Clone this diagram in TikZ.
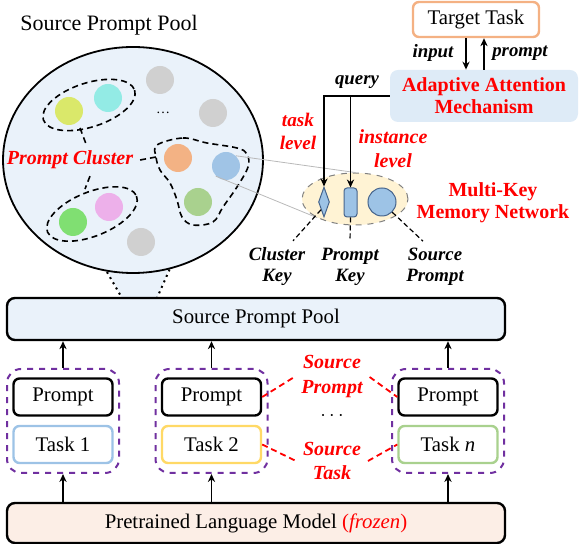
\documentclass[tikz,border=0pt]{standalone}
\usepackage{fontspec}
\setmainfont{Liberation Serif}
\usepackage{tikz}
\usetikzlibrary{arrows.meta, positioning, calc, shapes.geometric}
\usepackage{xcolor}
\definecolor{poolblue}{RGB}{234,242,250}
\definecolor{aamblue}{RGB}{222,235,247}
\definecolor{plmpeach}{RGB}{252,238,230}
\definecolor{memyellow}{RGB}{255,243,212}
\definecolor{keyblue}{RGB}{157,195,230}
\definecolor{keyedge}{RGB}{70,100,140}
\definecolor{tgtorange}{RGB}{244,177,131}
\definecolor{grpviolet}{RGB}{112,48,160}
\definecolor{tonegray}{RGB}{208,208,208}
\definecolor{toneyellow}{RGB}{218,232,106}
\definecolor{tonecyan}{RGB}{147,235,229}
\definecolor{toneorange}{RGB}{243,178,132}
\definecolor{toneblue}{RGB}{160,196,230}
\definecolor{tonesage}{RGB}{169,209,142}
\definecolor{tonepink}{RGB}{237,176,234}
\definecolor{tonegreen}{RGB}{128,223,114}
\definecolor{taskyellow}{RGB}{255,217,102}

\tikzset{
  txt/.style={font=\fontsize{10.4}{12}\selectfont},
  redlbl/.style={text=red, align=center, font=\fontsize{10}{12}\selectfont\bfseries\itshape},
  keylbl/.style={align=center, font=\fontsize{9.4}{10.5}\selectfont\bfseries\itshape},
  widebox/.style={draw, line width=1.2pt, rounded corners=4pt, minimum width=249pt, inner sep=0pt, txt},
  grpbox/.style={draw=grpviolet, dashed, line width=1pt, rounded corners=7pt, minimum width=56pt, minimum height=52pt},
  inbox/.style={draw, rounded corners=3pt, line width=1.2pt, minimum width=49.5pt, minimum height=18.5pt, inner sep=0pt, txt},
  uparrow/.style={-{Stealth[length=4pt,width=3.6pt]}, line width=0.9pt},
  tone/.style={circle, minimum size=14pt, inner sep=0pt},
  clu/.style={dashed, line width=0.8pt, dash pattern=on 3pt off 2pt},
  lead/.style={dashed, line width=0.6pt, dash pattern=on 2.5pt off 1.5pt},
  redlead/.style={red, dashed, line width=0.9pt, dash pattern=on 3pt off 2pt},
  keyshape/.style={fill=keyblue, draw=keyedge, line width=0.5pt, inner sep=0pt},
}

\begin{document}
\begin{tikzpicture}[x=0.5pt, y=-0.5pt]
  \useasboundingbox (0,0) rectangle (580,544);

  % pool with funnel
  \fill[poolblue] (107,270) -- (172,262) -- (157,298) -- (122,298) -- cycle;
  \draw[dotted, line width=1pt] (107,272) -- (122,298) (172,264) -- (157,298);
  \node[txt, font=\fontsize{11}{13}\selectfont] (pooltitle) at (109,25) {Source Prompt Pool};
  \draw[fill=poolblue, line width=0.9pt] (133,160) ellipse (130 and 113);

  \foreach \n/\x/\y/\c in {g1/160/80/tonegray, g2/213/113/tonegray, g3/141/242/tonegray,
      c1/69/111/toneyellow, c2/108/98/tonecyan, c3/178/158/toneorange, c4/226/166/toneblue,
      c5/198/202/tonesage, c6/109/207/tonepink, c7/73/222/tonegreen} {
    \node[tone, fill=\c] (\n) at (\x,\y) {};
  }
  \node[font=\fontsize{7}{8}\selectfont] (more) at (163,113) {\ldots};

  % clusters
  \draw[clu, rotate around={18:(89,105)}] (89,105) ellipse (48 and 22);
  \draw[clu, rotate around={22:(92,214)}] (92,214) ellipse (48 and 22);
  \draw[clu] plot[smooth cycle, tension=0.6] coordinates {(157,145) (183,138) (207,143) (237,148)
      (247,154) (248,167) (237,187) (223,207) (213,222) (193,225) (182,217) (177,200) (170,183)
      (160,170) (156,157)};
  \node[redlbl] (pcluster) at (70,160) {Prompt Cluster};
  \coordinate (c1s) at (80,128);
  \coordinate (c2n) at (85,189);
  \coordinate (c3w) at (156,157);
  \draw[clu] (pcluster.east) -- (c3w);
  \draw[clu] (c1s) -- ([xshift=8pt]pcluster.north);
  \draw[clu] ([xshift=10pt]pcluster.south) -- (c2n);

  % target task and attention
  \node[draw=tgtorange, line width=1.2pt, rounded corners=3pt, fill=white, minimum width=63pt,
      minimum height=17.5pt, txt] (target) at (476,19.5) {Target Task};
  \node[fill=aamblue, rounded corners=4pt, minimum width=94pt, minimum height=26pt, align=center,
      text=red, font=\fontsize{10}{11}\selectfont\bfseries] (aam) at (484,96) {Adaptive Attention\\Mechanism};
  \draw[uparrow] ([xshift=-5pt]target.south) -- ([xshift=-9pt]aam.north);
  \draw[uparrow] (aam.north) -- ([xshift=4pt]target.south);
  \node[keylbl] (inlbl) at (433,53) {input};
  \node[keylbl] (outlbl) at (520,53) {prompt};

  % memory network
  \node[ellipse, draw=gray, dashed, fill=memyellow, line width=0.5pt, minimum width=53pt,
      minimum height=26pt] (mem) at (355,199) {};
  \node[diamond, keyshape, minimum width=5.5pt, minimum height=15pt] (ckey) at (324,202) {};
  \node[rectangle, keyshape, rounded corners=1.5pt, minimum width=6.5pt, minimum height=14.5pt] (pkey) at (350.5,202.5) {};
  \node[circle, keyshape, minimum size=14pt] (sprompt) at (382,202) {};
  \draw[gray!55, line width=0.4pt] (c4.north east) -- (mem.north);
  \draw[gray!55, line width=0.4pt] (c4.south west) -- (mem.south west);

  \draw[uparrow] (aam.west) -| (ckey.north);
  \draw[uparrow] (aam.west -| pkey.north) -- (pkey.north);
  \node[keylbl] (qlbl) at (357,82) {query};
  \node[redlbl, font=\fontsize{9.6}{11.5}\selectfont\bfseries\itshape] (tlvl) at (298,131) {task\\level};
  \node[redlbl] (ilvl) at (393,149) {instance\\level};
  \node[redlbl, font=\fontsize{10}{11}\selectfont\bfseries, text=red] (mkmn) at (493,203) {Multi-Key\\Memory Network};

  \node[keylbl] (ckeylbl) at (277,267) {Cluster\\Key};
  \node[keylbl] (pkeylbl) at (350,267) {Prompt\\Key};
  \node[keylbl] (spromptlbl) at (435,267) {Source\\Prompt};
  \draw[lead] (ckey.south west) -- ([xshift=8pt]ckeylbl.north);
  \draw[lead] (pkey.south) -- (pkeylbl.north);
  \draw[lead] (sprompt.south east) -- ([xshift=-6pt]spromptlbl.north);

  % source tasks
  \node[widebox, fill=poolblue, minimum height=21pt] (pool) at (256,319) {Source Prompt Pool};
  \node[widebox, fill=plmpeach, minimum height=20pt] (plm) at (256,523)
      {Pretrained Language Model \textcolor{red}{(\textit{frozen})}};
  \foreach \i/\x/\c/\t in {1/63/keyblue/Task 1, 2/211.5/taskyellow/Task 2, 3/448/tonesage/Task \textit{n}} {
    \node[grpbox] (grp\i) at (\x,421) {};
    \node[inbox] (prm\i) at (\x,397) {Prompt};
    \node[inbox, draw=\c] (tsk\i) at (\x,444.5) {\t};
    \draw[uparrow] (grp\i.north) -- (grp\i.north |- pool.south);
    \draw[uparrow] (grp\i.south |- plm.north) -- (grp\i.south);
  }
  \node[redlbl, font=\fontsize{10}{12.5}\selectfont\bfseries\itshape] (srcp) at (332,377) {Source\\Prompt};
  \node[redlbl, font=\fontsize{10}{12}\selectfont\bfseries\itshape] (srct) at (332,461) {Source\\Task};
  \node[txt] (gap) at (332,416) {$\cdots$};
  \draw[redlead] (prm2.east) -- (srcp.west);
  \draw[redlead] (srcp.east) -- (prm3.west);
  \draw[redlead] (tsk2.east) -- (srct.west);
  \draw[redlead] (srct.east) -- (tsk3.west);
\end{tikzpicture}
\end{document}
